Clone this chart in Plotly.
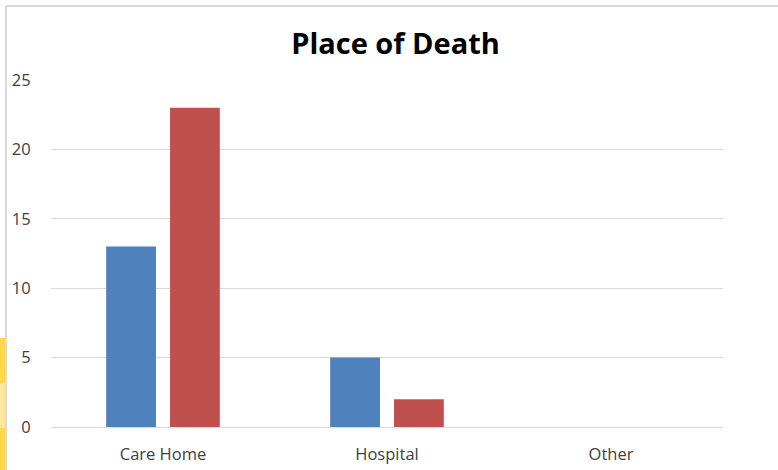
import plotly.graph_objects as go

categories = ["Care Home", "Hospital", "Other"]
series_a = [13, 5, 0]
series_b = [23, 2, 0]
y_ticks = [0, 5, 10, 15, 20, 25]

W, H = 778, 470
L, R, T, B = 51, 55, 80, 43
pw, ph = W - L - R, H - T - B

def px_x(x):
    return (x - L) / pw

def px_y(y):
    return (H - B - y) / ph

fig = go.Figure()
fig.add_trace(go.Bar(x=categories, y=series_a, marker=dict(color="#4F81BD", line=dict(width=0)), name="A"))
fig.add_trace(go.Bar(x=categories, y=series_b, marker=dict(color="#C0504D", line=dict(width=0)), name="B"))

shapes = [
    dict(type="rect", xref="paper", yref="paper", x0=px_x(0), x1=px_x(6), y0=px_y(338), y1=px_y(383),
         fillcolor="#FFD94A", line=dict(width=0), layer="below"),
    dict(type="rect", xref="paper", yref="paper", x0=px_x(0), x1=px_x(6), y0=px_y(383), y1=px_y(428),
         fillcolor="#FFE6A0", line=dict(width=0), layer="below"),
    dict(type="rect", xref="paper", yref="paper", x0=px_x(0), x1=px_x(6), y0=px_y(428), y1=px_y(470),
         fillcolor="#FFD94A", line=dict(width=0), layer="below"),
    dict(type="line", xref="paper", yref="paper", x0=px_x(6), x1=px_x(778), y0=px_y(6), y1=px_y(6),
         line=dict(color="#D9D9D9", width=2)),
    dict(type="line", xref="paper", yref="paper", x0=px_x(6), x1=px_x(6), y0=px_y(6), y1=px_y(470),
         line=dict(color="#D9D9D9", width=2)),
]

fig.update_layout(
    width=W, height=H, autosize=False,
    margin=dict(l=L, r=R, t=T, b=B),
    paper_bgcolor="white", plot_bgcolor="white",
    showlegend=False,
    barmode="group", bargap=0.43, bargroupgap=0.22,
    title=dict(text="<b>Place of Death</b>", x=395.5 / W, xanchor="center", y=1 - 44 / H, yanchor="middle",
               font=dict(family="Open Sans, Liberation Sans, sans-serif", size=29, color="#000000"),
               automargin=False),
    font=dict(family="Open Sans, Liberation Sans, sans-serif", size=16, color="#404040"),
    shapes=shapes,
)
fig.update_xaxes(showgrid=False, showline=False, ticks="outside", ticklen=12, tickcolor="rgba(0,0,0,0)",
                 tickfont=dict(size=16.5, color="#404040"), automargin=False)
fig.update_yaxes(range=[0, 25], tickvals=y_ticks, showgrid=True, gridcolor="#D9D9D9", gridwidth=1,
                 zeroline=True, zerolinecolor="#D9D9D9", zerolinewidth=1, showline=False,
                 ticks="outside", ticklen=16, tickcolor="rgba(0,0,0,0)",
                 tickfont=dict(size=16.5, color="#404040"), automargin=False)

post = ("var s=document.createElement('style');"
        "s.innerHTML='html,body{margin:0;padding:0;overflow:hidden;}';"
        "document.head.appendChild(s);")

fig.write_html("out.html", config={"responsive": False, "displayModeBar": False}, post_script=post)
